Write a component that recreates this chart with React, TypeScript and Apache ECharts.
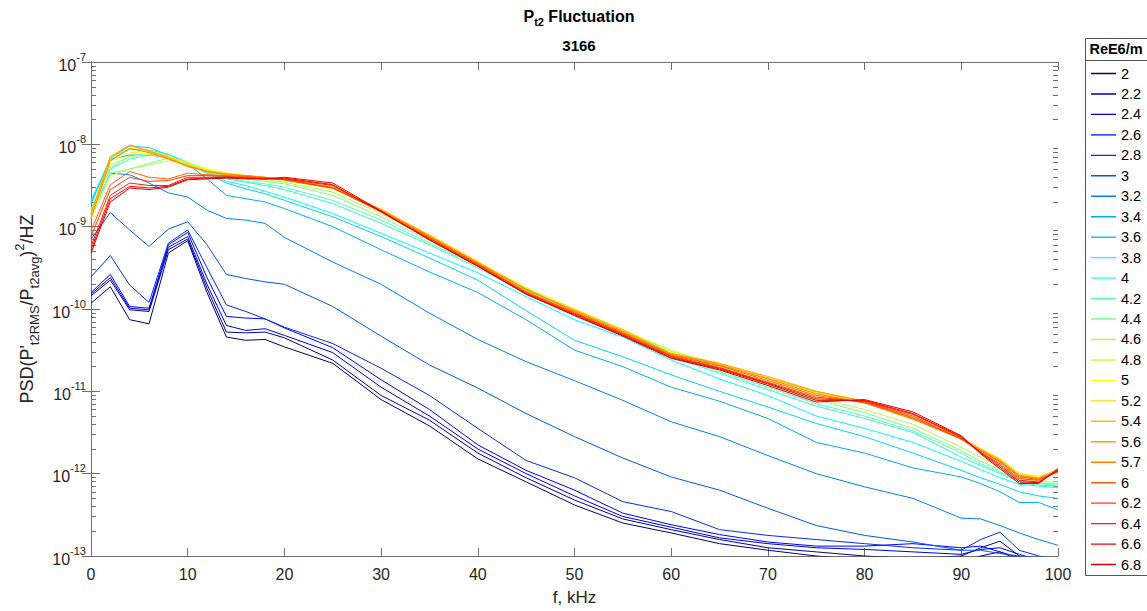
import React, { useEffect, useRef } from "react";
import * as echarts from "echarts";

const FONT = "'Liberation Sans', Arial, Helvetica, sans-serif";
const AX = "#707070";
const TXT = "#262626";

// Frequency samples (kHz)
const FREQ_KHZ = [0, 2, 4, 6, 8, 10, 12, 14, 16, 18, 20, 25, 30, 35, 40, 45, 50, 55, 60, 65, 70, 75, 80, 85, 90, 92, 94, 96, 98, 100];

// Legend labels (ReE6/m)
const RE_LABELS = ["2", "2.2", "2.4", "2.6", "2.8", "3", "3.2", "3.4", "3.6", "3.8", "4", "4.2", "4.4", "4.6", "4.8", "5", "5.2", "5.4", "5.6", "5.7", "6", "6.2", "6.4", "6.6", "6.8"];

// jet-like colours
const COLORS = ["#000080", "#0000AA", "#0000D5", "#0000FF", "#002BFF", "#0055FF", "#0080FF", "#00AAFF", "#00D5FF", "#00FFFF", "#2BFFD5", "#55FFAA", "#80FF80", "#AAFF55", "#D5FF2B", "#FFFF00", "#FFE000", "#FFC000", "#FFA000", "#FF8000", "#FF6000", "#FF4000", "#FF2000", "#FF0000", "#E00000"];

// PSD values, stored as log10(PSD)
const LOG_RE_2_0 = [-9.93, -9.73, -10.13, -10.18, -9.32, -9.17, -9.8, -10.34, -10.38, -10.37, -10.46, -10.66, -11.1, -11.42, -11.82, -12.1, -12.38, -12.6, -12.72, -12.85, -12.93, -13.0, -13.05, -13.1, -13.08, -13.0, -12.95, -13.05, -13.12, -13.2];
const LOG_RE_2_2 = [-9.84, -9.65, -10.01, -10.03, -9.28, -9.15, -9.75, -10.28, -10.29, -10.28, -10.35, -10.62, -11.05, -11.35, -11.75, -12.05, -12.32, -12.55, -12.68, -12.8, -12.9, -12.95, -13.0, -13.03, -13.0, -12.9, -12.82, -13.0, -13.1, -13.15];
const LOG_RE_2_4 = [-9.82, -9.62, -9.99, -10.01, -9.25, -9.12, -9.7, -10.2, -10.26, -10.24, -10.32, -10.53, -10.95, -11.3, -11.7, -12.0, -12.27, -12.52, -12.65, -12.78, -12.85, -12.9, -12.92, -12.95, -12.98, -12.92, -12.9, -12.98, -13.05, -13.1];
const LOG_RE_2_6 = [-9.8, -9.58, -9.97, -9.99, -9.22, -9.07, -9.62, -10.09, -10.11, -10.12, -10.23, -10.47, -10.86, -11.22, -11.65, -11.96, -12.2, -12.48, -12.62, -12.74, -12.83, -12.88, -12.88, -12.85, -12.9, -12.88, -12.95, -13.02, -13.05, -13.1];
const LOG_RE_2_8 = [-9.61, -9.35, -9.71, -9.92, -9.2, -9.04, -9.5, -9.95, -10.03, -10.12, -10.22, -10.42, -10.72, -11.05, -11.45, -11.84, -12.05, -12.34, -12.46, -12.68, -12.75, -12.8, -12.85, -12.9, -12.93, -12.8, -12.71, -12.93, -13.0, -13.05];
const LOG_RE_3_0 = [-9.15, -8.83, -9.04, -9.24, -9.03, -8.94, -9.22, -9.58, -9.63, -9.67, -9.7, -9.97, -10.33, -10.68, -10.96, -11.27, -11.55, -11.81, -12.04, -12.2, -12.42, -12.63, -12.75, -12.83, -12.93, -12.93, -12.97, -13.0, -13.02, -13.05];
const LOG_RE_3_2 = [-8.85, -8.35, -8.37, -8.47, -8.59, -8.64, -8.8, -8.9, -8.92, -8.96, -9.13, -9.43, -9.7, -10.05, -10.37, -10.64, -10.87, -11.11, -11.37, -11.55, -11.78, -12.0, -12.16, -12.3, -12.54, -12.55, -12.63, -12.72, -12.8, -12.87];
const LOG_RE_3_4 = [-8.72, -8.18, -8.13, -8.13, -8.16, -8.24, -8.42, -8.62, -8.66, -8.7, -8.78, -9.0, -9.28, -9.55, -9.8, -10.13, -10.5, -10.7, -10.95, -11.12, -11.33, -11.62, -11.75, -11.93, -12.04, -12.12, -12.22, -12.35, -12.35, -12.44];
const LOG_RE_3_6 = [-8.7, -8.17, -8.02, -8.04, -8.13, -8.23, -8.35, -8.47, -8.54, -8.6, -8.68, -8.88, -9.12, -9.38, -9.65, -10.02, -10.38, -10.58, -10.8, -11.0, -11.19, -11.39, -11.55, -11.75, -11.96, -12.05, -12.13, -12.22, -12.27, -12.3];
const LOG_RE_3_8 = [-8.68, -8.19, -8.06, -8.07, -8.12, -8.22, -8.33, -8.45, -8.5, -8.57, -8.64, -8.84, -9.08, -9.32, -9.56, -9.85, -10.13, -10.34, -10.62, -10.85, -11.05, -11.3, -11.45, -11.62, -11.85, -11.95, -12.05, -12.13, -12.15, -12.17];
const LOG_RE_4_0 = [-8.78, -8.3, -8.18, -8.13, -8.13, -8.25, -8.35, -8.42, -8.46, -8.5, -8.55, -8.72, -8.96, -9.22, -9.5, -9.8, -10.08, -10.32, -10.58, -10.78, -10.98, -11.18, -11.33, -11.5, -11.8, -11.9, -12.0, -12.1, -12.14, -12.15];
const LOG_RE_4_2 = [-8.8, -8.28, -8.15, -8.12, -8.14, -8.22, -8.33, -8.4, -8.45, -8.48, -8.52, -8.68, -8.92, -9.2, -9.48, -9.78, -10.06, -10.3, -10.56, -10.76, -10.95, -11.15, -11.3, -11.48, -11.75, -11.88, -11.98, -12.08, -12.12, -12.14];
const LOG_RE_4_4 = [-8.85, -8.35, -8.3, -8.23, -8.17, -8.25, -8.33, -8.38, -8.42, -8.45, -8.48, -8.62, -8.88, -9.17, -9.46, -9.75, -10.03, -10.27, -10.52, -10.72, -10.92, -11.1, -11.26, -11.45, -11.72, -11.85, -11.95, -12.08, -12.12, -12.12];
const LOG_RE_4_6 = [-8.9, -8.38, -8.3, -8.25, -8.2, -8.22, -8.31, -8.36, -8.4, -8.43, -8.46, -8.58, -8.84, -9.14, -9.44, -9.74, -10.02, -10.26, -10.5, -10.7, -10.9, -11.08, -11.22, -11.4, -11.68, -11.8, -11.92, -12.05, -12.1, -12.1];
const LOG_RE_4_8 = [-8.88, -8.25, -8.15, -8.12, -8.16, -8.22, -8.3, -8.35, -8.38, -8.41, -8.44, -8.54, -8.8, -9.12, -9.43, -9.74, -10.0, -10.25, -10.52, -10.66, -10.85, -11.02, -11.14, -11.33, -11.58, -11.7, -11.82, -12.0, -12.03, -11.98];
const LOG_RE_5_0 = [-8.86, -8.2, -8.1, -8.09, -8.14, -8.24, -8.3, -8.35, -8.38, -8.4, -8.43, -8.53, -8.79, -9.11, -9.43, -9.76, -10.01, -10.26, -10.54, -10.67, -10.84, -11.02, -11.13, -11.33, -11.57, -11.7, -11.82, -12.0, -12.04, -11.96];
const LOG_RE_5_2 = [-8.84, -8.17, -8.05, -8.07, -8.15, -8.26, -8.32, -8.36, -8.38, -8.4, -8.43, -8.52, -8.79, -9.1, -9.42, -9.76, -10.0, -10.26, -10.55, -10.66, -10.84, -11.01, -11.12, -11.32, -11.56, -11.7, -11.82, -12.0, -12.05, -11.95];
const LOG_RE_5_4 = [-8.84, -8.15, -8.01, -8.09, -8.17, -8.27, -8.33, -8.37, -8.39, -8.41, -8.43, -8.53, -8.8, -9.11, -9.43, -9.77, -10.01, -10.25, -10.54, -10.67, -10.84, -11.0, -11.13, -11.32, -11.56, -11.7, -11.83, -12.02, -12.05, -11.94];
const LOG_RE_5_6 = [-8.85, -8.15, -8.01, -8.08, -8.16, -8.27, -8.33, -8.37, -8.38, -8.4, -8.42, -8.52, -8.79, -9.11, -9.44, -9.77, -10.02, -10.27, -10.54, -10.66, -10.82, -11.0, -11.12, -11.33, -11.57, -11.71, -11.84, -12.02, -12.06, -11.96];
const LOG_RE_5_7 = [-8.9, -8.2, -8.05, -8.1, -8.18, -8.26, -8.33, -8.36, -8.38, -8.4, -8.43, -8.53, -8.8, -9.12, -9.44, -9.76, -10.03, -10.28, -10.55, -10.68, -10.85, -11.03, -11.14, -11.34, -11.58, -11.72, -11.85, -12.03, -12.06, -11.97];
const LOG_RE_6_0 = [-9.05, -8.49, -8.33, -8.4, -8.42, -8.35, -8.37, -8.38, -8.39, -8.41, -8.43, -8.53, -8.81, -9.13, -9.45, -9.79, -10.04, -10.29, -10.56, -10.69, -10.87, -11.05, -11.14, -11.32, -11.58, -11.72, -11.86, -12.04, -12.07, -11.98];
const LOG_RE_6_2 = [-9.12, -8.55, -8.4, -8.45, -8.44, -8.38, -8.38, -8.39, -8.4, -8.41, -8.43, -8.53, -8.82, -9.14, -9.46, -9.8, -10.05, -10.3, -10.57, -10.71, -10.89, -11.07, -11.13, -11.3, -11.58, -11.74, -11.88, -12.06, -12.08, -11.97];
const LOG_RE_6_4 = [-9.24, -8.62, -8.47, -8.5, -8.5, -8.4, -8.4, -8.4, -8.41, -8.42, -8.42, -8.5, -8.82, -9.15, -9.47, -9.81, -10.06, -10.31, -10.58, -10.72, -10.9, -11.09, -11.12, -11.28, -11.56, -11.74, -11.9, -12.08, -12.1, -11.95];
const LOG_RE_6_6 = [-9.28, -8.66, -8.51, -8.53, -8.51, -8.42, -8.41, -8.4, -8.41, -8.42, -8.41, -8.49, -8.82, -9.16, -9.48, -9.82, -10.07, -10.32, -10.59, -10.73, -10.91, -11.11, -11.11, -11.27, -11.55, -11.75, -11.92, -12.1, -12.11, -11.96];
const LOG_RE_6_8 = [-9.32, -8.7, -8.53, -8.55, -8.52, -8.43, -8.42, -8.41, -8.42, -8.42, -8.4, -8.47, -8.81, -9.16, -9.48, -9.82, -10.08, -10.33, -10.6, -10.74, -10.93, -11.13, -11.1, -11.25, -11.54, -11.76, -11.94, -12.12, -12.12, -11.94];

const LOG_SERIES = [LOG_RE_2_0, LOG_RE_2_2, LOG_RE_2_4, LOG_RE_2_6, LOG_RE_2_8, LOG_RE_3_0, LOG_RE_3_2, LOG_RE_3_4, LOG_RE_3_6, LOG_RE_3_8, LOG_RE_4_0, LOG_RE_4_2, LOG_RE_4_4, LOG_RE_4_6, LOG_RE_4_8, LOG_RE_5_0, LOG_RE_5_2, LOG_RE_5_4, LOG_RE_5_6, LOG_RE_5_7, LOG_RE_6_0, LOG_RE_6_2, LOG_RE_6_4, LOG_RE_6_6, LOG_RE_6_8];

// Axis ranges / ticks
const X_MIN = 0;
const X_MAX = 100;
const X_INTERVAL = 10;
const Y_MIN = 1e-13;
const Y_MAX = 1e-7;
const DECADES = [-13, -12, -11, -10, -9, -8];
const MINOR_MULTS = [2, 3, 4, 5, 6, 7, 8, 9];
const MINOR_TICKS: number[] = [];
DECADES.forEach((e) => MINOR_MULTS.forEach((m) => MINOR_TICKS.push(m * Math.pow(10, e))));

// legend sample: a thin horizontal bar inside a 25x14 box
const LEGEND_LINE_ICON =
  "path://M0,0h0.01v0.01h-0.01z M0,6.3h25v1.4h-25z M24.99,13.99h0.01v0.01h-0.01z";

export default function App() {
  const ref = useRef<HTMLDivElement>(null);

  useEffect(() => {
    if (!ref.current) return;
    const chart = echarts.init(ref.current, null, { renderer: "svg" });

    const yBase = {
      type: "log" as const,
      logBase: 10,
      min: Y_MIN,
      max: Y_MAX,
      splitNumber: 6,
      splitLine: { show: false },
      minorTick: { show: false },
    };

    const series = LOG_SERIES.map((logs, i) => ({
      name: RE_LABELS[i],
      type: "line" as const,
      xAxisIndex: 0,
      yAxisIndex: 0,
      symbol: "none",
      showSymbol: false,
      clip: true,
      lineStyle: { width: 1, color: COLORS[i] },
      itemStyle: { color: COLORS[i] },
      emphasis: { disabled: true },
      data: FREQ_KHZ.map((f, j) => [f, Math.pow(10, logs[j])]),
    }));

    const option: any = {
      animation: false,
      backgroundColor: "#ffffff",
      textStyle: { fontFamily: FONT },
      title: [
        {
          text: "{a|P}{b|t2}{a| Fluctuation}",
          left: 574,
          textAlign: "center",
          top: 0,
          textStyle: {
            rich: {
              a: { fontSize: 16, fontWeight: "bold", color: "#000", fontFamily: FONT, lineHeight: 22, verticalAlign: "middle" },
              b: { fontSize: 11, fontWeight: "bold", color: "#000", fontFamily: FONT, lineHeight: 22, verticalAlign: "bottom" },
            },
          },
        },
        {
          text: "3166",
          left: 574,
          textAlign: "center",
          top: 33,
          textStyle: { fontSize: 15, fontWeight: "bold", color: "#000", fontFamily: FONT },
        },
      ],
      grid: { left: 91, right: 89, top: 62, bottom: 55, containLabel: false },
      legend: {
        data: RE_LABELS,
        orient: "vertical",
        left: 1091,
        top: 66,
        padding: 0,
        itemWidth: 25,
        itemHeight: 14,
        itemGap: 5.46,
        icon: LEGEND_LINE_ICON,
        selectedMode: false,
        textStyle: { fontSize: 14.5, color: "#000", fontFamily: FONT, lineHeight: 14 },
      },
      graphic: [
        {
          type: "rect",
          z: 0,
          shape: { x: 1085.5, y: 38.5, width: 80, height: 537 },
          style: { fill: "#fff", stroke: "#555", lineWidth: 1 },
        },
        {
          type: "line",
          z: 1,
          shape: { x1: 1085.5, y1: 60.5, x2: 1147, y2: 60.5 },
          style: { stroke: "#555", lineWidth: 1 },
        },
        {
          type: "text",
          z: 1,
          x: 1116,
          y: 49,
          style: { text: "ReE6/m", fontSize: 14.5, fontWeight: "bold", fill: "#000", fontFamily: FONT, align: "center", verticalAlign: "middle" },
        },
      ],
      xAxis: [
        {
          type: "value",
          min: X_MIN,
          max: X_MAX,
          interval: X_INTERVAL,
          position: "bottom",
          axisLine: { show: true, lineStyle: { color: AX, width: 1 } },
          axisTick: { show: true, inside: true, length: 8, lineStyle: { color: AX } },
          axisLabel: { fontSize: 16, color: TXT, margin: 10, fontFamily: FONT },
          splitLine: { show: false },
          name: "f, kHz",
          nameLocation: "middle",
          nameGap: 33,
          nameTextStyle: { fontSize: 17, color: TXT, fontFamily: FONT },
        },
        {
          type: "value",
          min: X_MIN,
          max: X_MAX,
          interval: X_INTERVAL,
          position: "top",
          axisLine: { show: true, lineStyle: { color: AX, width: 1 } },
          axisTick: { show: true, inside: true, length: 8, lineStyle: { color: AX } },
          axisLabel: { show: false },
          splitLine: { show: false },
        },
      ],
      yAxis: [
        {
          ...yBase,
          position: "left",
          axisLine: { show: true, lineStyle: { color: AX, width: 1 } },
          axisTick: { show: true, inside: true, length: 9, lineStyle: { color: AX } },
          axisLabel: {
            margin: 5,
            formatter: (v: number) => `{b|10}{s|${Math.round(Math.log10(v))}}`,
            rich: {
              b: { fontSize: 16, color: TXT, fontFamily: FONT, lineHeight: 22, verticalAlign: "bottom" },
              s: { fontSize: 11, color: TXT, fontFamily: FONT, lineHeight: 22, verticalAlign: "top" },
            },
          },
          name: "{m|PSD(P'}{sb|t2RMS}{m|/P}{sb|t2avg}{m|)}{sp|2}{m|/HZ}",
          nameLocation: "middle",
          nameGap: 46,
          nameRotate: 90,
          nameTextStyle: {
            rich: {
              m: { fontSize: 18, color: TXT, fontFamily: FONT, lineHeight: 28, verticalAlign: "middle" },
              sb: { fontSize: 13, color: TXT, fontFamily: FONT, lineHeight: 28, verticalAlign: "bottom" },
              sp: { fontSize: 13, color: TXT, fontFamily: FONT, lineHeight: 28, verticalAlign: "top" },
            },
          },
        },
        {
          ...yBase,
          position: "right",
          axisLine: { show: true, lineStyle: { color: AX, width: 1 } },
          axisTick: { show: true, inside: true, length: 9, lineStyle: { color: AX } },
          axisLabel: { show: false },
        },
        {
          ...yBase,
          position: "left",
          axisLine: { show: false },
          axisTick: { show: true, inside: true, length: 5, customValues: MINOR_TICKS, lineStyle: { color: AX } },
          axisLabel: { show: false },
        },
        {
          ...yBase,
          position: "right",
          axisLine: { show: false },
          axisTick: { show: true, inside: true, length: 5, customValues: MINOR_TICKS, lineStyle: { color: AX } },
          axisLabel: { show: false },
        },
      ],
      series,
    };

    chart.setOption(option);
    return () => chart.dispose();
  }, []);

  return (
    <div
      ref={ref}
      style={{ position: "fixed", left: 0, top: 0, width: 1147, height: 611, background: "#fff" }}
    />
  );
}
